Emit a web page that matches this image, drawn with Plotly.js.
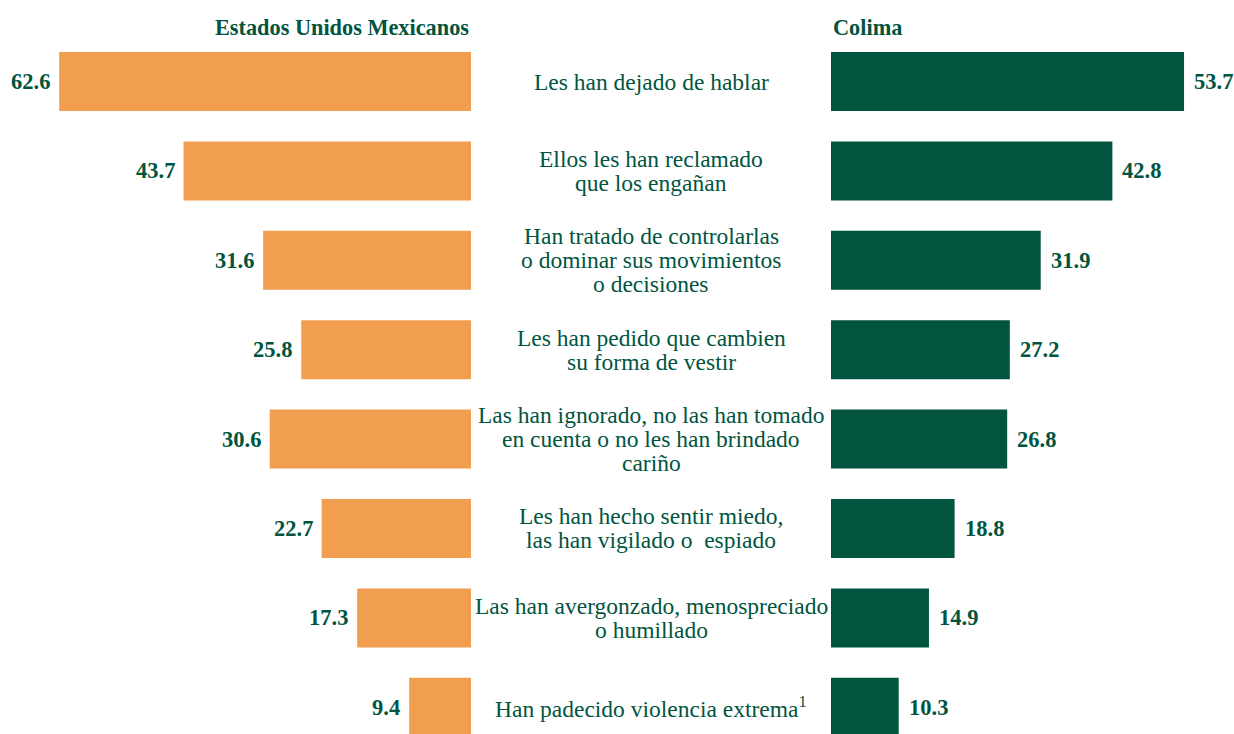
<!DOCTYPE html>
<html>
<head>
<meta charset="utf-8">
<script src="https://cdn.plot.ly/plotly-3.0.1.min.js"></script>
<style>
  html, body { margin: 0; padding: 0; background: #ffffff; }
  #chart { width: 1234px; height: 734px; }
</style>
</head>
<body>
<div id="chart"></div>
<script>
// Categories (lines separated by <br>)
const categories = [
  "Les han dejado de hablar",
  "Ellos les han reclamado<br>que los engañan",
  "Han tratado de controlarlas<br>o dominar sus movimientos<br>o decisiones",
  "Les han pedido que cambien<br>su forma de vestir",
  "Las han ignorado, no las han tomado<br>en cuenta o no les han brindado<br>cariño",
  "Les han hecho sentir miedo,<br>las han vigilado o  espiado",
  "Las han avergonzado, menospreciado<br>o humillado",
  "Han padecido violencia extrema<sup>1</sup>"
];
const nacional = [62.6, 43.7, 31.6, 25.8, 30.6, 22.7, 17.3, 9.4];
const colima   = [53.7, 42.8, 31.9, 27.2, 26.8, 18.8, 14.9, 10.3];
const leftTitle = "Estados Unidos Mexicanos";
const rightTitle = "Colima";

const GREEN = "#01553F";
const ORANGE = "#F29E50";
const FONT = "Liberation Serif, Times New Roman, serif";
const pos = categories.map((_, i) => i);

const traces = [
  {
    type: "bar", orientation: "h", x: nacional, y: pos,
    xaxis: "x", yaxis: "y", width: 0.66,
    marker: { color: ORANGE }, hoverinfo: "skip"
  },
  {
    type: "bar", orientation: "h", x: colima, y: pos,
    xaxis: "x2", yaxis: "y", width: 0.66,
    marker: { color: GREEN }, hoverinfo: "skip"
  }
];

const annotations = [];
// value labels
nacional.forEach((v, i) => annotations.push({
  x: v, y: i, xref: "x", yref: "y", text: v.toFixed(1), showarrow: false,
  xanchor: "right", yanchor: "middle", xshift: -7,
  font: { family: FONT, size: 22.5, color: GREEN, weight: "bold" }
}));
colima.forEach((v, i) => annotations.push({
  x: v, y: i, xref: "x2", yref: "y", text: v.toFixed(1), showarrow: false,
  xanchor: "left", yanchor: "middle", xshift: 8,
  font: { family: FONT, size: 22.5, color: GREEN, weight: "bold" }
}));
// category labels, one line at a time for tight line spacing
const LINE = 24;
categories.forEach((label, i) => {
  const lines = label.split("<br>");
  lines.forEach((ln, k) => annotations.push({
    x: 651 / 1234, y: i, xref: "paper", yref: "y", text: ln, showarrow: false,
    xanchor: "center", yanchor: "middle",
    yshift: -(k - (lines.length - 1) / 2) * LINE,
    font: { family: FONT, size: 23.5, color: GREEN }
  }));
});
// column headers
annotations.push({
  x: 471 / 1234, y: 1 - 27 / 734, xref: "paper", yref: "paper", text: leftTitle,
  showarrow: false, xanchor: "right", yanchor: "middle",
  font: { family: FONT, size: 22.3, color: GREEN, weight: "bold" }
});
annotations.push({
  x: 831 / 1234, y: 1 - 27 / 734, xref: "paper", yref: "paper", text: rightTitle,
  showarrow: false, xanchor: "left", yanchor: "middle",
  font: { family: FONT, size: 22.3, color: GREEN, weight: "bold" }
});

const hidden = { visible: false, showgrid: false, zeroline: false, fixedrange: true };

const layout = {
  width: 1234, height: 734,
  margin: { l: 0, r: 0, t: 0, b: 0, pad: 0 },
  paper_bgcolor: "#ffffff", plot_bgcolor: "#ffffff",
  showlegend: false,
  xaxis: Object.assign({ domain: [0, 471 / 1234], range: [71.6, 0], anchor: "y" }, hidden),
  xaxis2: Object.assign({ domain: [831 / 1234, 1], range: [0, 61.3], anchor: "y" }, hidden),
  yaxis: Object.assign({ range: [7.299, -0.912] }, hidden),
  annotations: annotations
};

Plotly.newPlot("chart", traces, layout, { staticPlot: true, displayModeBar: false });
</script>
</body>
</html>
